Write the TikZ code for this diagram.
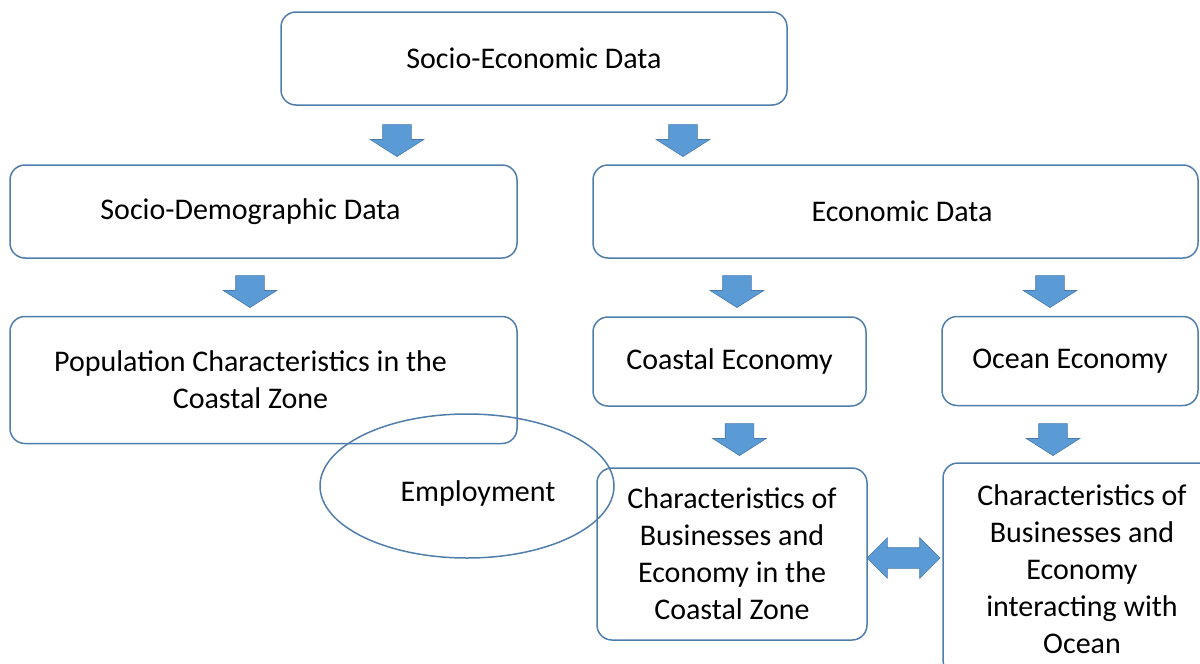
\documentclass[tikz,border=0pt]{standalone}
\usepackage{fontspec}
\setmainfont{Carlito}
\usetikzlibrary{shapes.geometric,shapes.arrows}
\definecolor{boxline}{RGB}{80,126,172}
\definecolor{arrowfill}{RGB}{91,155,213}
\definecolor{arrowline}{RGB}{72,122,172}

\begin{document}
\begin{tikzpicture}[x=1pt, y=-1pt,
  databox/.style = {shape=rectangle, rounded corners=15pt,
    draw=boxline, line width=1.5pt, align=center, inner sep=0pt,
    font=\fontsize{30}{37}\selectfont},
  downarrow/.style = {shape=single arrow, rotate=-90,
    fill=arrowfill, draw=arrowline, line width=0.6pt,
    inner xsep=0pt, inner ysep=14pt,
    minimum height=32pt, minimum width=53pt,
    single arrow head extend=12.5pt, single arrow tip angle=115}]
  \useasboundingbox (0,0) rectangle (1200,664);

  % top level
  \node[databox, minimum width=506pt, minimum height=93pt] (socioecon) at (534,58.5) {Socio-Economic Data};
  % second level
  \node[databox, minimum width=507pt, minimum height=93pt] (sociodemo) at (263.5,211.5) {Socio-Demographic Data\hspace*{26pt}};
  \node[databox, minimum width=605pt, minimum height=93pt] (econ) at (895.5,211.5) {\hspace*{13pt}Economic Data};
  % third level
  \node[databox, minimum width=507pt, minimum height=127pt] (popul) at (263.5,380) {Population Characteristics in the\hspace*{26pt}\\Coastal Zone\hspace*{26pt}};
  \node[databox, minimum width=273pt, minimum height=89pt] (coastecon) at (729.5,361.5) {Coastal Economy};
  \node[databox, minimum width=256pt, minimum height=89pt] (oceanecon) at (1070,361) {Ocean Economy};
  % bottom level
  \node[databox, minimum width=270pt, minimum height=172pt] (coastbiz) at (732,554) {Characteristics of\\Businesses and\\Economy in the\\Coastal Zone};
  \node[databox, minimum width=278pt, minimum height=212pt] (oceanbiz) at (1082,569) {Characteristics of\\Businesses and\\Economy\\interacting with\\Ocean};
  \node[draw=boxline, line width=1.5pt, shape=ellipse, minimum width=294pt, minimum height=144pt,
    font=\fontsize{30}{37}\selectfont] (employ) at (467,486) {\hspace*{22pt}\raisebox{-7pt}[\height][\depth]{Employment}};

  % block arrows
  \node[downarrow] (a1) at (397,136) {};
  \node[downarrow] (a2) at (683,136) {};
  \node[downarrow] (a3) at (250,287) {};
  \node[downarrow] (a4) at (737,287) {};
  \node[downarrow] (a5) at (1050,287) {};
  \node[downarrow] (a6) at (739.5,435) {};
  \node[downarrow] (a7) at (1053,435) {};
  \node[shape=double arrow, fill=arrowfill, draw=arrowline, line width=0.6pt,
    inner xsep=0pt, inner ysep=10pt,
    minimum height=73pt, minimum width=40pt, double arrow head extend=10pt] (link) at (903.5,558) {};
\end{tikzpicture}
\end{document}
